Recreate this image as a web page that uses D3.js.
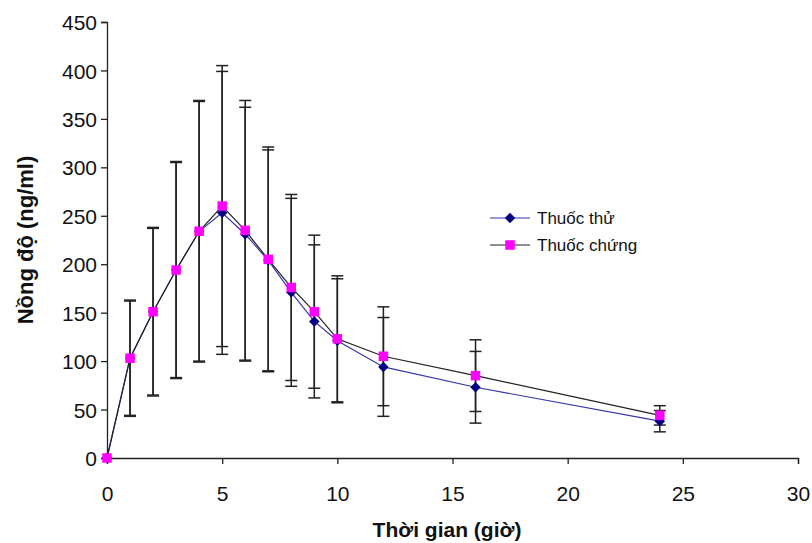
<!DOCTYPE html>
<html>
<head>
<meta charset="utf-8">
<script src="https://cdn.jsdelivr.net/npm/d3@7"></script>
<style>
  body { margin: 0; background: #fff; }
  text { font-family: "Liberation Sans", Arial, sans-serif; fill: #111; }
</style>
</head>
<body>
<svg id="chart" width="812" height="543"></svg>
<script>
// time points (hours)
var times = [0, 1, 2, 3, 4, 5, 6, 7, 8, 9, 10, 12, 16, 24];

// Thuốc thử (test drug) mean and SD
var testMean = [0, 103, 151, 194, 234, 253, 231, 204, 171, 141, 121, 94, 73, 38];
var testSd   = [0, 59, 86, 111, 134, 146, 131, 114, 97, 79, 64, 51, 37, 11];

// Thuốc chứng (reference drug) mean and SD
var refMean = [0, 103, 151, 194, 234, 260, 235, 205, 176, 151, 123, 105, 85, 44];
var refSd   = [0, 60, 87, 112, 135, 145, 134, 116, 96, 79, 65, 51, 37, 10];

var xTicks = [0, 5, 10, 15, 20, 25, 30];
var yTicks = [0, 50, 100, 150, 200, 250, 300, 350, 400, 450];

var seriesNames = ["Thuốc thử", "Thuốc chứng"];

var svg = d3.select("#chart");

var mLeft = 107, mRight = 798, mTop = 22, mBottom = 458;

var x = d3.scaleLinear().domain([0, 30]).range([mLeft, mRight]);
var y = d3.scaleLinear().domain([0, 450]).range([mBottom, mTop]);

var test = times.map(function (t, i) { return { t: t, m: testMean[i], sd: testSd[i] }; });
var ref = times.map(function (t, i) { return { t: t, m: refMean[i], sd: refSd[i] }; });

// axes
var yAxis = d3.axisLeft(y).tickValues(yTicks).tickSize(6).tickPadding(4);
var xAxis = d3.axisBottom(x).tickValues(xTicks).tickSize(6).tickPadding(22);

var gy = svg.append("g").attr("transform", "translate(" + mLeft + ",0)").call(yAxis);
var gx = svg.append("g").attr("transform", "translate(0," + mBottom + ")").call(xAxis);

[gx, gy].forEach(function (g) {
  g.select(".domain").attr("stroke", "#222").attr("stroke-width", 1.3);
  g.selectAll(".tick line").attr("stroke", "#222").attr("stroke-width", 1.3);
  g.selectAll(".tick text")
    .style("font-family", "'Liberation Sans', Arial, sans-serif")
    .style("font-size", "21px")
    .attr("fill", "#222");
});
gy.selectAll(".tick text").attr("dy", "0.36em");

// error bars
function errorBars(data, cls) {
  var g = svg.append("g").attr("class", cls);
  var eb = g.selectAll("g").data(data.filter(function (d) { return d.sd > 0; }))
    .enter().append("g");
  eb.append("line")
    .attr("x1", function (d) { return x(d.t); })
    .attr("x2", function (d) { return x(d.t); })
    .attr("y1", function (d) { return y(d.m - d.sd); })
    .attr("y2", function (d) { return y(d.m + d.sd); })
    .attr("stroke", "#222").attr("stroke-width", 1.5);
  [-1, 1].forEach(function (s) {
    eb.append("line")
      .attr("x1", function (d) { return x(d.t) - 6; })
      .attr("x2", function (d) { return x(d.t) + 6; })
      .attr("y1", function (d) { return y(d.m + s * d.sd); })
      .attr("y2", function (d) { return y(d.m + s * d.sd); })
      .attr("stroke", "#222").attr("stroke-width", 1.5);
  });
}
errorBars(test, "eb-test");
errorBars(ref, "eb-ref");

var line = d3.line()
  .x(function (d) { return x(d.t); })
  .y(function (d) { return y(d.m); });

var diamond = d3.symbol().type(d3.symbolDiamond2).size(70);
var square = d3.symbol().type(d3.symbolSquare2).size(115);

// test series: blue line + navy diamonds
svg.append("path").datum(test)
  .attr("d", line).attr("fill", "none")
  .attr("stroke", "#3535b0").attr("stroke-width", 1.2);

// reference series: dark line + magenta squares
svg.append("path").datum(ref)
  .attr("d", line).attr("fill", "none")
  .attr("stroke", "#222").attr("stroke-width", 1.2);

svg.selectAll("path.dia").data(test).enter().append("path")
  .attr("class", "dia")
  .attr("d", diamond)
  .attr("transform", function (d) { return "translate(" + x(d.t) + "," + y(d.m) + ")"; })
  .attr("fill", "#000080");

svg.selectAll("path.sq").data(ref).enter().append("path")
  .attr("class", "sq")
  .attr("d", square)
  .attr("transform", function (d) { return "translate(" + x(d.t) + "," + y(d.m) + ")"; })
  .attr("fill", "#ff00ff");

// axis titles
svg.append("text")
  .attr("transform", "translate(33,240) rotate(-90)")
  .attr("text-anchor", "middle")
  .style("font-size", "22px").style("font-weight", "bold")
  .text("Nồng độ (ng/ml)");

svg.append("text")
  .attr("x", 447).attr("y", 537)
  .attr("text-anchor", "middle")
  .style("font-size", "21px").style("font-weight", "bold")
  .text("Thời gian (giờ)");

// legend
var legend = svg.append("g").attr("transform", "translate(490,218)");
seriesNames.forEach(function (name, i) {
  var g = legend.append("g").attr("transform", "translate(0," + i * 27 + ")");
  g.append("line").attr("x1", 0).attr("x2", 40).attr("y1", 0).attr("y2", 0)
    .attr("stroke", i === 0 ? "#3535b0" : "#222").attr("stroke-width", 1.2);
  g.append("path")
    .attr("d", i === 0 ? diamond : square)
    .attr("transform", "translate(20,0)")
    .attr("fill", i === 0 ? "#000080" : "#ff00ff");
  g.append("text").attr("x", 47).attr("y", 0).attr("dy", "0.35em")
    .style("font-size", "17px").attr("fill", "#222")
    .text(name);
});
</script>
</body>
</html>
